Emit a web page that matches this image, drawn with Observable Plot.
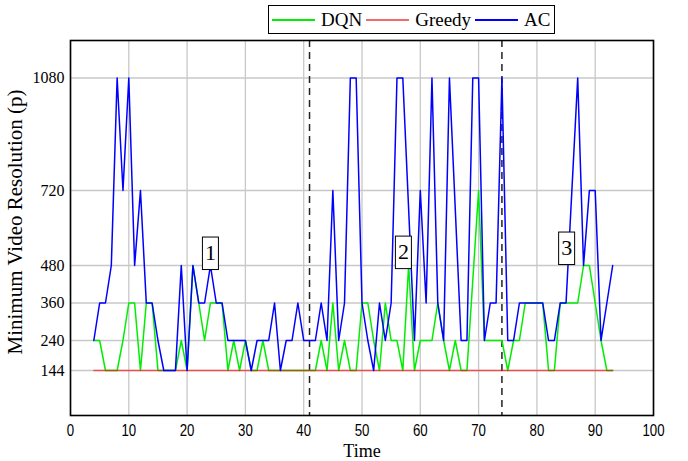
<!DOCTYPE html>
<html><head><meta charset="utf-8">
<script src="https://cdn.jsdelivr.net/npm/d3@7"></script>
<script src="https://cdn.jsdelivr.net/npm/@observablehq/plot@0.6"></script>
<style>
html,body{margin:0;padding:0;background:#fff;}
#chart{position:relative;width:688px;height:461px;}
#legend{position:absolute;left:268px;top:5px;height:29px;border:1px solid #000;background:#fff;display:flex;align-items:center;font-family:"Liberation Serif","Times New Roman",serif;font-size:19px;padding:0 3px;box-sizing:border-box;}
.item{display:flex;align-items:center;margin-right:4px;}
.item:last-child{margin-right:0;}
.sw{width:43px;height:2px;margin-right:6px;}
</style></head><body>
<div id="chart"><div id="legend"></div></div>
<script>
const time = [4,5,6,7,8,9,10,11,12,13,14,15,16,17,18,19,20,21,22,23,24,25,26,27,28,29,30,31,32,33,34,35,36,37,38,39,40,41,42,43,44,45,46,47,48,49,50,51,52,53,54,55,56,57,58,59,60,61,62,63,64,65,66,67,68,69,70,71,72,73,74,75,76,77,78,79,80,81,82,83,84,85,86,87,88,89,90,91,92,93];
const acValues = [240,360,360,480,1080,720,1080,480,720,360,
  360,240,144,144,144,480,144,480,360,360,
  480,360,360,240,240,240,240,144,240,240,
  240,360,144,240,240,360,240,240,240,360,
  240,720,240,360,1080,1080,360,240,144,360,
  240,360,1080,1080,660,240,720,360,1080,360,
  240,1080,660,240,240,1080,1080,240,360,360,
  1080,240,240,360,360,360,360,360,240,240,
  360,360,720,1080,480,720,720,240,360,480];
const dqnValues = [240,240,144,144,144,240,360,360,144,360,
  360,144,144,144,144,240,144,480,360,240,
  360,360,360,144,240,144,240,144,144,240,
  144,144,144,144,144,144,144,144,144,240,
  144,360,144,240,144,144,360,360,240,144,
  360,240,240,144,480,144,240,240,240,360,
  240,144,240,144,144,432,720,240,240,240,
  240,144,240,240,360,360,360,360,144,144,
  360,360,360,360,480,480,360,240,144,144];
const greedyValues = [144,144,144,144,144,144,144,144,144,144,
  144,144,144,144,144,144,144,144,144,144,
  144,144,144,144,144,144,144,144,144,144,
  144,144,144,144,144,144,144,144,144,144,
  144,144,144,144,144,144,144,144,144,144,
  144,144,144,144,144,144,144,144,144,144,
  144,144,144,144,144,144,144,144,144,144,
  144,144,144,144,144,144,144,144,144,144,
  144,144,144,144,144,144,144,144,144,144];
const seriesNames = ["DQN","Greedy","AC"];
const seriesColors = ["#00ee00","#ff0000","#0000ff"];
const xTicks = [0,10,20,30,40,50,60,70,80,90,100];
const yTicks = [144,240,360,480,720,1080];
const phaseLines = [41,74];
const annotLabels = ["1","2","3"];
const annotTime = [24.0,57.1,85.1];
const annotValue = [520,523,536];

const dqn = time.map((t,i)=>({t, v:dqnValues[i]}));
const greedy = time.map((t,i)=>({t, v:greedyValues[i]}));
const ac = time.map((t,i)=>({t, v:acValues[i]}));
const annots = annotLabels.map((l,i)=>({label:l, t:annotTime[i], v:annotValue[i]}));

const serif = "Liberation Serif, Times New Roman, serif";
const sans = "Liberation Sans, Arial, sans-serif";

const chart = Plot.plot({
  width: 688, height: 461,
  marginLeft: 70, marginRight: 35, marginTop: 40, marginBottom: 46,
  style: {background:"#fff", overflow:"visible"},
  x: {domain:[0,100]},
  y: {domain:[0,1200]},
  marks: [
    Plot.gridX(xTicks, {stroke:"#c8c8c8", strokeOpacity:1, strokeWidth:1.3}),
    Plot.gridY(yTicks, {stroke:"#c8c8c8", strokeOpacity:1, strokeWidth:1.3}),
    Plot.axisX(xTicks, {tickSize:0, tickPadding:8, fontSize:17, fontFamily:sans, fill:"#000", label:null}),
    Plot.axisY(yTicks, {tickSize:0, tickPadding:6, fontSize:16, fontFamily:serif, fill:"#000", label:null, tickFormat:d=>String(d)}),
    Plot.ruleX(phaseLines, {stroke:"#222", strokeWidth:1.5, strokeDasharray:"7,5"}),
    Plot.line(dqn, {x:"t", y:"v", stroke:seriesColors[0], strokeWidth:1.5}),
    Plot.line(greedy, {x:"t", y:"v", stroke:seriesColors[1], strokeWidth:1.5, strokeOpacity:0.6}),
    Plot.line(ac, {x:"t", y:"v", stroke:seriesColors[2], strokeWidth:1.5}),
    Plot.text(annots, {x:"t", y:"v", text:"label", fontSize:22, fontFamily:serif, fill:"#000", lineAnchor:"middle"}),
    Plot.text(["Time"], {frameAnchor:"bottom", dy:36, fontSize:18, fontFamily:serif, fill:"#000", lineAnchor:"middle", textAnchor:"middle"}),
    Plot.text(["Minimum Video Resolution (p)"], {frameAnchor:"left", dx:-55, dy:-6, rotate:-90, fontSize:21, fontFamily:serif, fill:"#000", lineAnchor:"middle", textAnchor:"middle"}),
    Plot.frame({stroke:"#000", strokeWidth:1.6})
  ]
});
const host = document.getElementById("chart");
host.insertBefore(chart, host.firstChild);

// boxes behind annotation digits
d3.select(chart).selectAll('g[font-size="22"] text').each(function(){
  const b = this.getBBox();
  const r = document.createElementNS("http://www.w3.org/2000/svg","rect");
  r.setAttribute("x", b.x - 2.5);
  r.setAttribute("y", b.y - 3);
  r.setAttribute("width", b.width + 5);
  r.setAttribute("height", b.height + 7.5);
  r.setAttribute("fill", "#fff");
  r.setAttribute("stroke", "#000");
  r.setAttribute("stroke-width", "1");
  const tr = this.getAttribute("transform");
  if (tr) r.setAttribute("transform", tr);
  this.parentNode.insertBefore(r, this);
});

// condensed x tick labels
d3.select(chart).selectAll('g[font-size="17"] text').each(function(){
  const tr = this.getAttribute("transform") || "";
  this.setAttribute("transform", tr + " scale(0.78,1)");
});

// legend
const legend = d3.select("#legend");
seriesNames.forEach((n,i)=>{
  const it = legend.append("div").attr("class","item");
  it.append("div").attr("class","sw").style("background", i===1 ? "#f26a6a" : seriesColors[i]);
  it.append("span").text(n);
});
</script>
</body></html>
